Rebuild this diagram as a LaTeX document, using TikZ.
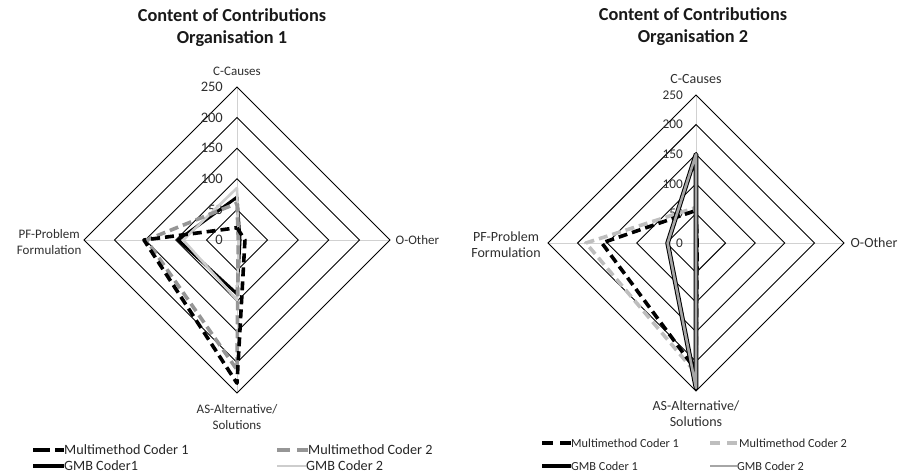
\documentclass[tikz,border=0pt]{standalone}
\usepackage{fontspec}
\setmainfont{Carlito}
\definecolor{lbl}{HTML}{2E2E2E}
\definecolor{mmtwoA}{HTML}{969696}
\definecolor{gmbtwoA}{HTML}{CDCDCD}
\definecolor{mmtwoB}{HTML}{BEBEBE}
\definecolor{gmbtwoB}{HTML}{A6A6A6}
\tikzset{
  ring/.style={draw=black, line width=0.9pt},
  axisline/.style={draw=black!18, line width=0.9pt},
  series/.style={line join=round, line cap=butt},
  mmone/.style={series, draw=black, line width=3.6pt, dash pattern=on 9pt off 5pt},
  mmtwo/.style={series, draw=#1, line width=3.6pt, dash pattern=on 9pt off 5pt},
  gmbone/.style={series, draw=black, line width=#1},
  gmbtwo/.style={series, draw=#1, line width=2.6pt},
  ttl/.style={font=\bfseries\fontsize{18.3}{22}\selectfont, text=black!90, align=center},
  axlbl/.style={font=\fontsize{#1}{16}\selectfont, text=lbl, align=center, inner sep=0pt},
  numlbl/.style={font=\fontsize{#1}{#1}\selectfont, text=lbl, anchor=east, inner sep=0pt},
  leg/.style={font=\fontsize{#1}{#1}\selectfont, text=black!85, anchor=west, inner sep=0pt},
}
\newcommand\radarpoly[5]{\draw[#1] (0,#2) -- (#3,0) -- (0,-#4) -- (-#5,0) -- cycle;}
\newcommand\radargrid[2]{%
  \draw[axisline] (0,250) -- (0,-250);
  \draw[axisline] (-250,0) -- (250,0);
  \foreach \r in {50,100,150,200,250} {\draw[ring] (0,\r) -- (\r,0) -- (0,-\r) -- (-\r,0) -- cycle;}
  \foreach \r in {0,50,100,150,200,250} {\node[numlbl=#1] at ([xshift=-#2pt]0,\r) {\r};}
}
\begin{document}
\begin{tikzpicture}[x=1pt,y=-1pt]
\useasboundingbox (0,0) rectangle (901,474);
% ---------------- chart 1 ----------------
\node[ttl] (t1) at (232,28) {Content of Contributions\\Organisation 1};
\begin{scope}[shift={(237,240)}, x=0.612pt, y=0.612pt]
  \radargrid{14.5}{14}
  \radarpoly{gmbone=3pt}{70}{5}{88}{96}
  \radarpoly{gmbtwo=gmbtwoA}{85}{3}{98}{88}
  \radarpoly{mmtwo=mmtwoA}{60}{2}{212}{148}
  \radarpoly{mmone}{20}{13}{234}{152}
  \node[axlbl=13] (c1) at (0,276) {C-Causes};
  \node[axlbl=13, anchor=west] (o1) at (259,0) {O-Other};
  \node[axlbl=13, anchor=east] (pf1) at (-254,-3) {PF-Problem\\Formulation};
  \node[axlbl=13, anchor=north] (as1) at (0,-269) {AS-Alternative/\\Solutions};
\end{scope}
% legend 1
\coordinate (l1a) at (33,450); \node[leg=14.2] (lt1a) at (64,450) {Multimethod Coder 1};
\draw[mmone, dash pattern=on 17pt off 5pt] (l1a) -- (lt1a.west);
\coordinate (l1b) at (277,450); \node[leg=14.2] (lt1b) at (308,450) {Multimethod Coder 2};
\draw[mmtwo=mmtwoA, dash pattern=on 13pt off 7pt] (l1b) -- (lt1b.west);
\coordinate (l1c) at (33,466); \node[leg=14.2] (lt1c) at (64,466) {GMB Coder1};
\draw[gmbone=3.8pt] (l1c) -- (lt1c.west);
\coordinate (l1d) at (277,466); \node[leg=14.2] (lt1d) at (306,466) {GMB Coder 2};
\draw[gmbtwo=gmbtwoA] (l1d) -- (lt1d.west);
% ---------------- chart 2 ----------------
\node[ttl] (t2) at (693,27) {Content of Contributions\\Organisation 2};
\begin{scope}[shift={(696,243)}, x=0.592pt, y=0.592pt]
  \radargrid{13.3}{13}
  \radarpoly{mmtwo=mmtwoB}{60}{2}{220}{186}
  \radarpoly{mmone}{55}{2}{215}{159}
  \radarpoly{gmbone=4.6pt}{150}{0}{245}{48}
  \radarpoly{gmbtwo=gmbtwoB}{150}{0}{245}{48}
  \node[axlbl=14] (c2) at (0,277) {C-Causes};
  \node[axlbl=14, anchor=west] (o2) at (261,0) {O-Other};
  \node[axlbl=14, anchor=east] (pf2) at (-262,-3) {PF-Problem\\Formulation};
  \node[axlbl=14, anchor=north] (as2) at (0,-266) {AS-Alternative/\\Solutions};
\end{scope}
% legend 2
\coordinate (l2a) at (542,443); \node[leg=12.3] (lt2a) at (571,443) {Multimethod Coder 1};
\draw[mmone, dash pattern=on 11pt off 7pt] (l2a) -- (lt2a.west);
\coordinate (l2b) at (710,443); \node[leg=12.3] (lt2b) at (739,443) {Multimethod Coder 2};
\draw[mmtwo=mmtwoB, dash pattern=on 10pt off 7pt] (l2b) -- (lt2b.west);
\coordinate (l2c) at (542,466); \node[leg=12.3] (lt2c) at (571,466) {GMB Coder 1};
\draw[gmbone=3.8pt] (l2c) -- (lt2c.west);
\coordinate (l2d) at (710,466); \node[leg=12.3] (lt2d) at (737,466) {GMB Coder 2};
\draw[gmbtwo=gmbtwoB] (l2d) -- (lt2d.west);
\end{tikzpicture}
\end{document}
